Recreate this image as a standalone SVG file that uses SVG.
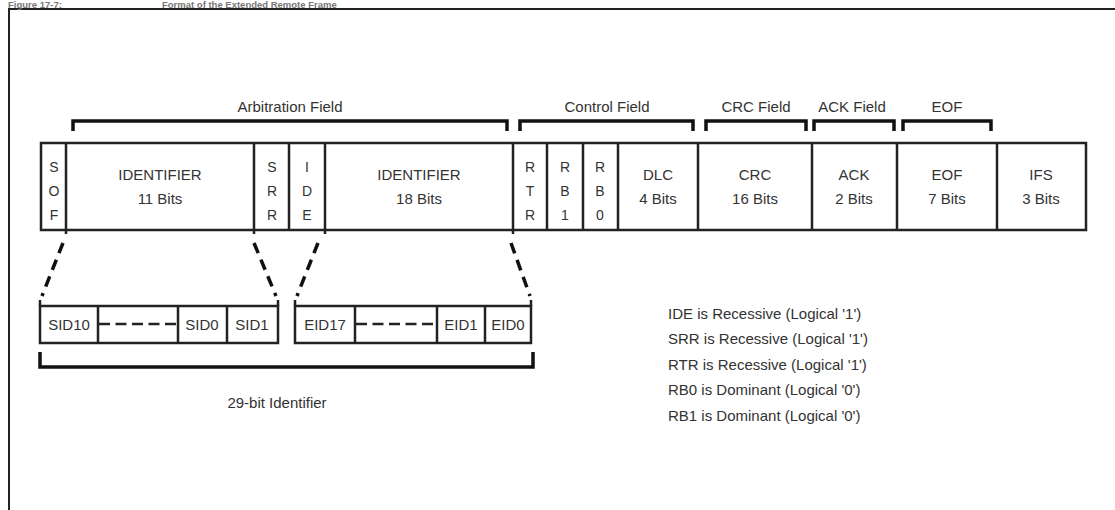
<svg xmlns="http://www.w3.org/2000/svg" width="1115" height="510" viewBox="0 0 1115 510">
<style>
text{font-family:"Liberation Sans",Arial,sans-serif;fill:#333;}
.t{font-size:15px;text-anchor:middle;}
.s{font-size:14px;text-anchor:middle;}
.n{font-size:15px;}
.ttl{font-size:9.5px;font-weight:bold;fill:#777;}
.box{fill:none;stroke:#222;stroke-width:2.5;}
.ln{stroke:#222;stroke-width:2.5;fill:none;}
.br{stroke:#111;stroke-width:3.5;fill:none;}
.dash{stroke:#111;stroke-width:3.5;fill:none;stroke-dasharray:11,7;}
.hd{stroke:#222;stroke-width:2.5;fill:none;stroke-dasharray:11,5.5;}
</style>
<rect x="9" y="9" width="1200" height="600" fill="none" stroke="#222" stroke-width="2"/>
<text class="ttl" x="8" y="7.5">Figure 17-7:</text>
<text class="ttl" x="162" y="7.5">Format of the Extended Remote Frame</text>

<g id="labels">
<text class="t" x="290" y="112">Arbitration Field</text>
<text class="t" x="607" y="112">Control Field</text>
<text class="t" x="756" y="112">CRC Field</text>
<text class="t" x="852" y="112">ACK Field</text>
<text class="t" x="947" y="112">EOF</text>
</g>

<g id="brackets">
<path class="br" d="M73,131 V121 H507 V131"/>
<path class="br" d="M520,131 V121 H693 V131"/>
<path class="br" d="M706,131 V121 H806 V131"/>
<path class="br" d="M814,131 V121 H894 V131"/>
<path class="br" d="M903,131 V121 H991 V131"/>
</g>

<g id="frame">
<rect class="box" x="41" y="143" width="1045" height="87"/>
<path class="ln" d="M66,143 V234 M254,143 V234 M289,143 V230 M325,143 V234 M513,143 V234 M547,143 V230 M583,143 V230 M618,143 V230 M698,143 V230 M812,143 V230 M897,143 V230 M997,143 V230"/>
</g>
<g id="sof"><text class="s" x="54" y="172">S</text><text class="s" x="54" y="196">O</text><text class="s" x="54" y="220">F</text></g>
<g id="id11"><text class="t" x="160" y="180">IDENTIFIER</text><text class="t" x="160" y="204">11 Bits</text></g>
<g id="srr"><text class="s" x="272" y="172">S</text><text class="s" x="272" y="196">R</text><text class="s" x="272" y="220">R</text></g>
<g id="ide"><text class="s" x="307" y="172">I</text><text class="s" x="307" y="196">D</text><text class="s" x="307" y="220">E</text></g>
<g id="id18"><text class="t" x="419" y="180">IDENTIFIER</text><text class="t" x="419" y="204">18 Bits</text></g>
<g id="rtr"><text class="s" x="530" y="172">R</text><text class="s" x="530" y="196">T</text><text class="s" x="530" y="220">R</text></g>
<g id="rb1"><text class="s" x="565" y="172">R</text><text class="s" x="565" y="196">B</text><text class="s" x="565" y="220">1</text></g>
<g id="rb0"><text class="s" x="600" y="172">R</text><text class="s" x="600" y="196">B</text><text class="s" x="600" y="220">0</text></g>
<g id="dlc"><text class="t" x="658" y="180">DLC</text><text class="t" x="658" y="204">4 Bits</text></g>
<g id="crc"><text class="t" x="755" y="180">CRC</text><text class="t" x="755" y="204">16 Bits</text></g>
<g id="ack"><text class="t" x="854" y="180">ACK</text><text class="t" x="854" y="204">2 Bits</text></g>
<g id="eof"><text class="t" x="947" y="180">EOF</text><text class="t" x="947" y="204">7 Bits</text></g>
<g id="ifs"><text class="t" x="1041" y="180">IFS</text><text class="t" x="1041" y="204">3 Bits</text></g>

<g id="connectors">
<line class="dash" x1="63" y1="243" x2="42" y2="296"/>
<line class="dash" x1="254" y1="243" x2="276" y2="296"/>
<line class="dash" x1="318" y1="243" x2="297" y2="296"/>
<line class="dash" x1="511" y1="243" x2="530" y2="296"/>
</g>

<g id="sid">
<path class="ln" d="M40,300 V306 M278,300 V306"/>
<rect class="box" x="40" y="306" width="238" height="37"/>
<path class="ln" d="M98,306 V343 M178,306 V343 M227,306 V343"/>
<line class="hd" x1="99" y1="324" x2="178" y2="324"/>
<text class="t" x="69" y="330">SID10</text>
<text class="t" x="202" y="330">SID0</text>
<text class="t" x="252" y="330">SID1</text>
</g>
<g id="eid">
<path class="ln" d="M295,300 V306 M531,300 V306"/>
<rect class="box" x="295" y="306" width="236" height="37"/>
<path class="ln" d="M355,306 V343 M437,306 V343 M485,306 V343"/>
<line class="hd" x1="356" y1="324" x2="437" y2="324"/>
<text class="t" x="325" y="330">EID17</text>
<text class="t" x="461" y="330">EID1</text>
<text class="t" x="508" y="330">EID0</text>
</g>
<g id="ident29">
<path class="br" d="M40,352 V367 H533 V352"/>
<text class="t" x="277" y="408">29-bit Identifier</text>
</g>

<g id="notes">
<text class="n" x="668" y="319">IDE is Recessive (Logical '1')</text>
<text class="n" x="668" y="344">SRR is Recessive (Logical '1')</text>
<text class="n" x="668" y="370">RTR is Recessive (Logical '1')</text>
<text class="n" x="668" y="395">RB0 is Dominant (Logical '0')</text>
<text class="n" x="668" y="421">RB1 is Dominant (Logical '0')</text>
</g>
</svg>
